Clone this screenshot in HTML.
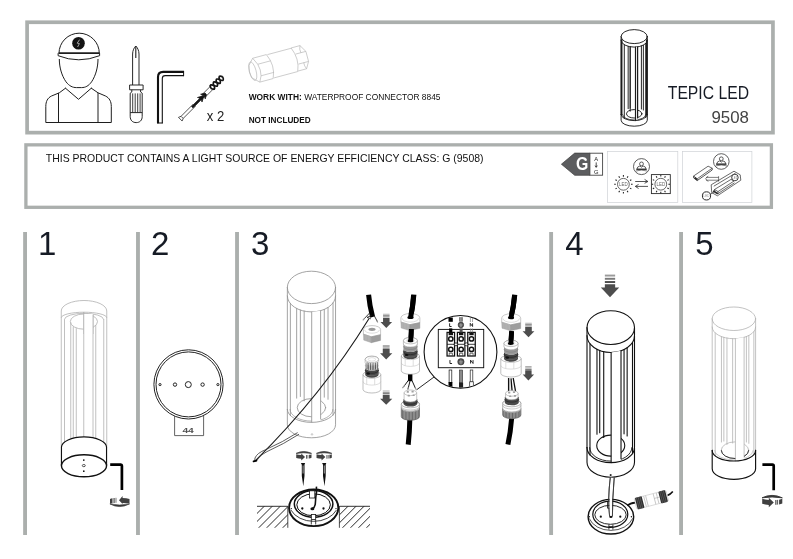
<!DOCTYPE html>
<html><head><meta charset="utf-8"><title>TEPIC LED 9508</title>
<style>
html,body{margin:0;padding:0;background:#fff;}
body{width:793px;height:559px;overflow:hidden;font-family:"Liberation Sans",sans-serif;}
svg{display:block;}
svg text{font-family:"Liberation Sans",sans-serif;}
svg{will-change:transform;}
</style></head><body>
<svg width="793" height="559" viewBox="0 0 793 559">
<rect width="793" height="559" fill="#fff"/>
<rect x="27.1" y="22.25" width="745.85" height="110.4" fill="none" stroke="#abafad" stroke-width="3.7"/>
<rect x="25.9" y="144.85" width="745.5" height="62.45" fill="none" stroke="#abafad" stroke-width="3.3"/>
<rect x="23.15" y="232" width="3.85" height="303" fill="#abafad"/>
<rect x="136.05" y="232" width="3.85" height="303" fill="#abafad"/>
<rect x="235.1" y="232" width="3.85" height="303" fill="#abafad"/>
<rect x="549.2" y="232" width="3.85" height="303" fill="#abafad"/>
<rect x="679.15" y="232" width="3.85" height="303" fill="#abafad"/>
<text id="n1" x="38" y="254.7" font-size="33" fill="#161b25" class="num">1</text>
<text id="n2" x="151" y="254.7" font-size="33" fill="#161b25" class="num">2</text>
<text id="n3" x="251" y="254.7" font-size="33" fill="#161b25" class="num">3</text>
<text id="n4" x="565.2" y="254.7" font-size="33" fill="#161b25" class="num">4</text>
<text id="n5" x="695.2" y="254.7" font-size="33" fill="#161b25" class="num">5</text>
<text id="t1" x="248.7" y="100" font-size="8.2" fill="#111" textLength="191.8" lengthAdjust="spacingAndGlyphs"><tspan font-weight="bold">WORK WITH:</tspan> WATERPROOF CONNECTOR 8845</text>
<text id="t2" x="248.7" y="122.5" font-size="8.2" font-weight="bold" fill="#111" textLength="62" lengthAdjust="spacingAndGlyphs">NOT INCLUDED</text>
<text id="t3" x="206.8" y="121.3" font-size="14" fill="#222" textLength="17.5" lengthAdjust="spacingAndGlyphs">x 2</text>
<text id="t4" x="667.8" y="98.8" font-size="17.5" fill="#161b25" textLength="81.2" lengthAdjust="spacingAndGlyphs">TEPIC LED</text>
<text id="t5" x="711.5" y="122.6" font-size="16.4" fill="#444" textLength="37.5" lengthAdjust="spacingAndGlyphs">9508</text>
<text id="t6" x="45.8" y="162" font-size="11.5" fill="#111" textLength="437.7" lengthAdjust="spacingAndGlyphs">THIS PRODUCT CONTAINS A LIGHT SOURCE OF ENERGY EFFICIENCY CLASS: G (9508)</text>
<g fill="none" stroke="#1e1e1e" stroke-width="1.0" stroke-linecap="round" stroke-linejoin="round">
<path d="M59,53 A20.15,19.8 0 0 1 99.3,53"/>
<path d="M58.1,53.6 V55.7 Q78.7,63.9 99.6,55.7 V53.6"/>
<path d="M59.3,59.4 C59.3,67 61.6,75.5 66,81.8 C69.2,86 72.6,87.6 76.5,87.6 H81.5 C85.4,87.6 88.6,86 91.6,81.8 C95.8,75.5 98,67 98,59.4"/>
<path d="M65.5,88.2 L78.5,99.3 L91.3,88.2"/>
<path d="M65.5,88.2 L59.3,92.8 L51.5,96 C47.5,98 45.8,101.5 45.8,106.5 V122.5 H111.3 V106.5 C111.3,101.5 109.5,98 105.5,96 L98,92.8 L91.3,88.2"/>
<path d="M58.5,93.3 V122.5 M98,93.3 V122.5"/>
</g>
<path d="M58.6,53.2 H99.6" stroke="#1e1e1e" stroke-width="1.7"/>
<circle cx="78.5" cy="43.3" r="6.3" fill="#141414"/>
<path d="M79.6,39.6 L77.2,43.2 L79.4,43.6 L77.6,47" fill="none" stroke="#ddd" stroke-width="0.7"/>
<g fill="none" stroke="#1e1e1e" stroke-width="0.95" stroke-linejoin="round">
<path d="M132.6,85 V54 C132.6,50.5 134.3,47.3 135.8,46 C137.3,47.3 139,50.5 139,54 V85"/>
<path d="M135.8,46.3 V58" stroke-width="1.1"/>
<rect x="129.6" y="85" width="13.5" height="4.8"/>
<path d="M131.8,89.8 V92 L130.2,93.2 V116.5 C130.2,120.3 132.6,122.6 136.2,122.6 C139.8,122.6 142.2,120.3 142.2,116.5 V93.2 L140.6,92 V89.8"/>
<path d="M130.2,112.6 H142.2"/>
<path d="M132.7,93.4 V112.4 M135.2,93.4 V112.4 M137.7,93.4 V112.4 M140.1,93.4 V112.4" stroke-width="0.85"/>
</g>
<path d="M158,123.2 V77 Q158,71.9 163.2,71.9 H184" fill="none" stroke="#111" stroke-width="2.1"/>
<path d="M162.3,123.2 V78.5 Q162.3,75.6 165.2,75.6 H184" fill="none" stroke="#111" stroke-width="1.1"/>
<path d="M157,123 H162.8 M183.6,71 V76.1" fill="none" stroke="#111" stroke-width="1"/>
<g transform="translate(180.3,119.2) rotate(-45)" stroke="#1a1a1a" stroke-width="0.7" fill="none" stroke-linejoin="round">
<path d="M0,-2.6 L2.6,-1.5 V1.5 L0,2.6 Z" fill="#fff"/>
<path d="M2.6,-1.5 H20 M2.6,1.5 H20"/>
<path d="M17,-0.9 H33 V0.9 H17 Z" fill="#111" stroke-width="0.9"/>
<path d="M27.5,-3.2 L32,-0.9 V0.9 L27.5,3.2 L29.3,0 Z" fill="#111"/>
<path d="M32,-3.3 L36,-1 V1 L32,3.3 L33.6,0 Z" fill="#111"/>
<path d="M33,-2 H45 M33,2 H45"/>
<path d="M43.5,0 Q45.5,-5.4 47.6,0 T51.7,0 T55.8,0 T59.9,0 M43.5,0 Q45.5,5.4 47.6,0 T51.7,0 T55.8,0 T59.9,0" stroke="#151515" stroke-width="1.75" fill="none"/>
<path d="M44,-2.4 L46,-2.9 M44,2.4 L46,2.9 M49.2,-2.6 L50.2,-2.6 M49.2,2.6 L50.2,2.6 M53.3,-2.6 L54.3,-2.6 M53.3,2.6 L54.3,2.6" stroke="#151515" stroke-width="1.1" fill="none"/>
</g>
<g transform="translate(277.7,64.5) rotate(-15)" stroke="#b2b2b2" stroke-width="0.6" fill="none" stroke-linejoin="round">
<ellipse cx="-25.8" cy="0" rx="3.3" ry="9.6"/>
<path d="M-22.6,-12.5 H-8.4 M-21.8,12.4 H-8"/>
<path d="M-22.6,-12.5 L-28,-6.6 Q-30.4,0 -28.6,6 L-21.8,12.4"/>
<path d="M-22.6,-12.5 L-19.2,-5.4 H-6 M-19.2,-5.4 Q-17.4,1 -19,6.6 L-21.8,12.4 M-19,6.6 H-5.6"/>
<path d="M-8.4,-12.5 Q-2.4,0 -8,12.4"/>
<path d="M-7.4,-12.2 H17.2 M-7,12 H17.6"/>
<path d="M17.2,-12.5 Q22.6,0 17.6,11.8"/>
<path d="M17.2,-12.5 H26.4 L30.6,-5.4 V5 L26.8,11.6 H17.6"/>
<path d="M20,-5.4 H30.6 M20.2,5 H30.6"/>
<path d="M26.4,-12.5 Q24.6,-9 25.4,-5.4 M26.8,11.6 Q25.2,8.4 25.6,5"/>
</g>
<g fill="none" stroke="#1c1c1c" stroke-width="0.95" stroke-linecap="round">
<ellipse cx="634.2" cy="36.6" rx="13.1" ry="7" fill="#fff"/>
<path d="M621.1,36.6 V40.1 A13.1,7 0 0 0 647.3,40.1 V36.6"/>
<path d="M628.17,46.32 V108.64 M630.19,46.76 V108.16 M641.4,45.95 V109.05 M643.37,45.1 V110.03 M630.19,46.76 V111.21" stroke="#1c1c1c"/>
<ellipse cx="634.2" cy="113.8" rx="7.73" ry="4.2" stroke="#1c1c1c"/>
<path d="M622.54,114.6 A11.66,5.4 0 0 0 645.86,114.6" stroke="#1c1c1c" stroke-width="0.76"/>
<path d="M635.51,47.06 V120.57 L637.61,120.39 V46.86 Z" fill="#fff" stroke="none"/>
<path d="M635.51,47.06 V120.57 M637.61,46.86 V117.89" stroke="#1c1c1c" stroke-width="1.2"/>
<path d="M624.3,44.68 V118.53 M645.73,43.42 V117.45" stroke="#1c1c1c"/>
<path d="M621.6,40.1 V114.6 M646.8,40.1 V114.6" stroke-width="1.71"/>
<path d="M621.1,40.1 V114.6 M647.3,40.1 V114.6"/>
</g>
<g fill="none" stroke="#1c1c1c" stroke-width="0.95" stroke-linecap="round">
<path d="M621.1,114.6 A13.1,6 0 0 0 647.3,114.6"/>
<path d="M621.1,114.6 V120.2 A13.1,6 0 0 0 647.3,120.2 V114.6"/>
</g>
<path d="M561.4,164.2 L574.7,153.1 H589.9 V175.3 H574.7 Z" fill="#5c5d5f" stroke="#3c3c3c" stroke-width="0.7" stroke-linejoin="round"/>
<rect x="589.9" y="153.2" width="12.7" height="22" fill="#fff" stroke="#444" stroke-width="0.9"/>
<text x="576.1" y="170" font-size="18.4" font-weight="bold" fill="#fff" textLength="12.3" lengthAdjust="spacingAndGlyphs">G</text>
<text x="596.2" y="160.6" font-size="5.8" fill="#222" text-anchor="middle">A</text>
<text x="596.2" y="173.6" font-size="5.8" fill="#222" text-anchor="middle">G</text>
<path d="M596.2,162.4 V167 M595.1,165.6 L596.2,167.4 L597.3,165.6" stroke="#222" stroke-width="0.8" fill="none"/>
<rect x="607.6" y="151.4" width="70.2" height="51" fill="none" stroke="#cfd2d6" stroke-width="0.7"/>
<rect x="682.5" y="151.4" width="69.4" height="51" fill="none" stroke="#cfd2d6" stroke-width="0.7"/>
<g fill="none" stroke="#2a2a2a" stroke-width="0.75"><circle cx="641.5" cy="166.6" r="8.0"/><circle cx="641.5" cy="163.9" r="1.9"/><path d="M636.9,169.2 Q637.2,166.29999999999998 639.9,166.0 L641.5,167.2 L643.1,166.0 Q645.8,166.29999999999998 646.1,169.2 Z"/><path d="M636.3,169.29999999999998 H646.7" stroke-width="1.1"/><path d="M635.9,171.0 Q641.5,169.2 647.1,171.0" stroke-width="0.6"/></g>
<g fill="none" stroke="#2a2a2a" stroke-width="0.75"><circle cx="721.3" cy="161.5" r="7.8"/><circle cx="721.3" cy="158.8" r="1.9"/><path d="M716.6999999999999,164.1 Q717.0,161.2 719.6999999999999,160.9 L721.3,162.1 L722.9,160.9 Q725.5999999999999,161.2 725.9,164.1 Z"/><path d="M716.0999999999999,164.2 H726.5" stroke-width="1.1"/><path d="M715.6999999999999,165.9 Q721.3,164.1 726.9,165.9" stroke-width="0.6"/></g>
<g fill="none" stroke="#2a2a2a" stroke-width="0.7"><circle cx="623.4" cy="184.3" r="5.9"/><path d="M631,184.3 L632.6,184.3 M629.98,188.1 L631.37,188.9 M627.2,190.88 L628,192.27 M623.4,191.9 L623.4,193.5 M619.6,190.88 L618.8,192.27 M616.82,188.1 L615.43,188.9 M615.8,184.3 L614.2,184.3 M616.82,180.5 L615.43,179.7 M619.6,177.72 L618.8,176.33 M623.4,176.7 L623.4,175.1 M627.2,177.72 L628,176.33 M629.98,180.5 L631.37,179.7 " stroke-width="1.05" stroke="#222"/></g><text x="623.4" y="186.0" font-size="4.6" fill="#666" text-anchor="middle" textLength="8.6" lengthAdjust="spacingAndGlyphs">LED</text>
<g fill="none" stroke="#2a2a2a" stroke-width="0.7"><circle cx="660.8" cy="184.2" r="5.9"/><path d="M668.4,184.2 L670,184.2 M667.38,188 L668.77,188.8 M664.6,190.78 L665.4,192.17 M660.8,191.8 L660.8,193.4 M657,190.78 L656.2,192.17 M654.22,188 L652.83,188.8 M653.2,184.2 L651.6,184.2 M654.22,180.4 L652.83,179.6 M657,177.62 L656.2,176.23 M660.8,176.6 L660.8,175 M664.6,177.62 L665.4,176.23 M667.38,180.4 L668.77,179.6 " stroke-width="1.05" stroke="#222"/></g><text x="660.8" y="185.89999999999998" font-size="4.6" fill="#666" text-anchor="middle" textLength="8.6" lengthAdjust="spacingAndGlyphs">LED</text>
<rect x="651.4" y="174.6" width="18.9" height="19" fill="none" stroke="#2a2a2a" stroke-width="0.9"/>
<path d="M635.2,181.5 H647.6 M644.6,179.4 L647.9,181.5 L644.6,183.3 M648,186.4 H635.6 M638.6,184.4 L635.3,186.4 L638.6,188.5" fill="none" stroke="#2a2a2a" stroke-width="0.8"/>
<g fill="none" stroke="#2a2a2a" stroke-width="0.7" stroke-linejoin="round">
<path d="M693.6,176 L708.1,166.2 L712.2,168.2 L697.2,178.8 Z"/>
<path d="M693.6,176 V177.9 L697.2,180.6 V178.8 M697.2,180.6 L712.2,170 V168.2" stroke-width="0.8"/>
<path d="M694.6,177.6 L697,179.6" stroke-width="1.4"/>
<path d="M706,177.4 H718.6 M706,180.2 H718.6 M718.6,176.2 V181.6 M708.2,175.9 L705.6,178.8 L708.2,181.7" stroke-width="0.6"/>
<path d="M711.2,184.8 L734,171.2 L740.2,174.8 L740.8,180.2 L717.4,195.8 L711.7,192.6 Z"/>
<path d="M713.8,186.2 L735.5,173.2 M714.5,189.5 L731,179.4 L734,181 L718,191.6 Z M714.5,189.5 V191.2 L718,193.6 V191.6 M718,193.6 L734.5,182.8" stroke-width="0.7"/>
<path d="M713,190.8 L717.8,193.8" stroke-width="1.5"/>
<circle cx="734.9" cy="177.5" r="3.3" fill="#fff" stroke-width="0.9"/>
<circle cx="706.5" cy="195.9" r="4.1" fill="#fff" stroke-width="1"/>
<path d="M710.3,194.3 L714.6,191.6"/>
</g>
<text x="734.9" y="178.6" font-size="3" fill="#888" text-anchor="middle">LED</text>
<text x="706.5" y="197" font-size="3" fill="#888" text-anchor="middle">LED</text>
<g fill="none" stroke="#b0b0b0" stroke-width="0.8">
<path d="M61.25,317.5 V311 A22.75,10.5 0 0 1 106.75,311 V317.5"/>
<path d="M61.25,317.8 A22.75,5.6 0 0 1 106.75,317.8"/>
<path d="M64.45,319.5 A19.55,6.2 0 0 1 103.55,319.5"/>
<ellipse cx="83.9" cy="321.6" rx="13.6" ry="7.6"/>
<path d="M61.25,317.5 V447.3 M64.5,319.3 V441.94 M70.75,322.5 V438.85 M73.25,326.5 V438.13 M76.25,328.2 V437.52 M83.75,312.3 V436.9 M93,314.5 V437.75 M95.75,325 V438.39 M103.75,319 V442.14 M106.75,317.5 V447.3 "/>
<rect x="83.75" y="314" width="9.25" height="20" fill="#fff" stroke="none"/>
<path d="M83.75,312.3 V334 M93,314.5 V334"/>
</g>
<g fill="none" stroke="#111" stroke-width="1.15">
<path d="M61.45,465.6 V447.3 A22.55,10.4 0 0 1 106.55,447.3 V465.6"/>
<ellipse cx="84.0" cy="465.8" rx="22.55" ry="11" stroke-width="1.4"/>
</g>
<circle cx="83.8" cy="460.1" r="0.85" fill="#111"/><circle cx="83.8" cy="471.2" r="0.85" fill="#111"/>
<ellipse cx="83.8" cy="465.6" rx="1.5" ry="1.1" fill="#fff" stroke="#111" stroke-width="0.7"/>
<path d="M110.2,464.6 H120.9 Q121.9,464.6 121.9,465.8 V490" fill="none" stroke="#000" stroke-width="2.7"/>
<g transform="translate(109.5,496) scale(1.0)"><path d="M0.4,7.9 Q10,13.2 20,7.9 Q10,10.2 0.4,7.9 Z" fill="#3a3a3a" stroke="#3a3a3a" stroke-width="0.7" stroke-linejoin="round"/><path d="M9.5,4.2 L13.1,0 V1.9 Q17,1.9 20,3 V7.6 Q17,6.9 13.1,6.9 V8 Z" fill="#404040"/><path d="M0.5,3.1 Q1.6,2.5 3,2.3 V7.3 Q1.6,7.5 0.5,7.8 Z" fill="#404040"/><rect x="4" y="2" width="1.15" height="5" fill="#4a4a4a"/><rect x="5.9" y="1.8" width="1.15" height="5" fill="#8a8a8a"/></g>
<g fill="none" stroke="#242424" stroke-width="1.0">
<circle cx="188.5" cy="384.4" r="34.6"/>
<circle cx="188.5" cy="384.4" r="32.5"/>
<circle cx="160" cy="384.6" r="1.1"/><circle cx="217.9" cy="384.6" r="1.1"/>
<circle cx="175" cy="384.6" r="1.7"/><circle cx="202.6" cy="384.6" r="1.7"/>
<circle cx="188.3" cy="384.6" r="3"/>
</g>
<path d="M174.6,415.9 V435.6 H203.6 V415.9" fill="none" stroke="#484848" stroke-width="0.85"/>
<text x="182.4" y="433.1" font-size="8" font-weight="bold" fill="#505050" textLength="11.4" lengthAdjust="spacingAndGlyphs">44</text>
<g fill="none" stroke="#929292" stroke-width="0.85" stroke-linecap="round">
<ellipse cx="311.45" cy="287.4" rx="24.1" ry="16.2" fill="#fff"/>
<path d="M287.35,287.4 V295.7 A24.1,16.2 0 0 0 335.55,295.7 V287.4"/>
<path d="M296.65,308.49 V398.16 M300.36,310.08 V396.49 M324.27,309.42 V397.18 M328.03,307.46 V399.29 M304.17,311.14 V400.85" stroke="#929292"/>
<ellipse cx="311.45" cy="407.67" rx="14.22" ry="9.1" stroke="#929292"/>
<path d="M290,409.4 A21.45,11.7 0 0 0 332.9,409.4" stroke="#929292" stroke-width="0.68"/>
<path d="M311.69,311.9 V422.4 L320.61,421.42 V310.68 Z" fill="#fff" stroke="none"/>
<path d="M311.69,311.9 V422.4 M320.61,310.68 V418.92" stroke="#929292" stroke-width="0.85"/>
<path d="M290.36,303.54 V415.69 M333.04,302.89 V415.17" stroke="#929292"/>
<path d="M287.35,295.7 V409.4 M335.55,295.7 V409.4"/>
</g>
<g fill="none" stroke="#929292" stroke-width="0.85" stroke-linecap="round">
<path d="M287.35,409.4 A24.1,13 0 0 0 335.55,409.4"/>
<path d="M287.35,409.4 V424.8 A24.1,13 0 0 0 335.55,424.8 V409.4"/>
</g>
<circle cx="312" cy="434.4" r="0.8" fill="none" stroke="#9b9b9b" stroke-width="0.5"/>
<path d="M368.6,294.8 Q369.6,306 372.6,317" fill="none" stroke="#000" stroke-width="5"/>
<path d="M369.6,313 L363.2,319.8 M371.4,315.6 L367,317.4 L370.8,318.8 M374.2,315.6 L377.6,322" fill="none" stroke="#222" stroke-width="0.9"/>
<path d="M364.6,318.4 L362.8,320.4 M376.8,320.6 L377.8,322.4" fill="none" stroke="#999" stroke-width="1.1"/>
<path d="M368.9,318.8 Q322,395 255.7,460.4" fill="none" stroke="#1a1a1a" stroke-width="1.1"/>
<path d="M297.6,432.6 Q283,442 265.8,449.6 Q257,453 255,458 Q254.2,460.4 255.6,461.2 M299,434.2 Q284,444 267,451.6 Q261,454.6 258.6,458 Q257.4,460.4 255.6,461.4" fill="none" stroke="#333" stroke-width="0.8"/>
<path d="M253.6,461.4 L256.4,460.6" fill="none" stroke="#000" stroke-width="1.8" stroke-linecap="round"/>
<rect x="383.05" y="313.8" width="6.5" height="0.79" fill="#9a9a9a"/><rect x="383.05" y="315.16" width="6.5" height="0.79" fill="#7a7a7a"/><rect x="383.05" y="316.52" width="6.5" height="0.79" fill="#4d4d4d"/><path d="M383.05,317.88 H389.55 V322.02 H392.1 L386.3,328.1 L380.5,322.02 H383.05 Z" fill="#4d4d4d"/>
<rect x="382.78" y="345" width="6.83" height="0.79" fill="#9a9a9a"/><rect x="382.78" y="346.37" width="6.83" height="0.79" fill="#7a7a7a"/><rect x="382.78" y="347.74" width="6.83" height="0.79" fill="#4d4d4d"/><path d="M382.78,349.1 H389.62 V353.28 H392.3 L386.2,359.4 L380.1,353.28 H382.78 Z" fill="#4d4d4d"/>
<rect x="382.78" y="390.6" width="6.83" height="0.78" fill="#9a9a9a"/><rect x="382.78" y="391.95" width="6.83" height="0.78" fill="#7a7a7a"/><rect x="382.78" y="393.3" width="6.83" height="0.78" fill="#4d4d4d"/><path d="M382.78,394.65 H389.62 V398.77 H392.3 L386.2,404.8 L380.1,398.77 H382.78 Z" fill="#4d4d4d"/>
<rect x="525.2" y="322.8" width="6.61" height="0.8" fill="#9a9a9a"/><rect x="525.2" y="324.18" width="6.61" height="0.8" fill="#7a7a7a"/><rect x="525.2" y="325.56" width="6.61" height="0.8" fill="#4d4d4d"/><path d="M525.2,326.93 H531.8 V331.14 H534.4 L528.5,337.3 L522.6,331.14 H525.2 Z" fill="#4d4d4d"/>
<rect x="525.21" y="366.2" width="6.38" height="0.79" fill="#9a9a9a"/><rect x="525.21" y="367.56" width="6.38" height="0.79" fill="#7a7a7a"/><rect x="525.21" y="368.92" width="6.38" height="0.79" fill="#4d4d4d"/><path d="M525.21,370.28 H531.59 V374.42 H534.1 L528.4,380.5 L522.7,374.42 H525.21 Z" fill="#4d4d4d"/>
<g stroke-linejoin="round"><path d="M363.4,329.5 A8.6,3.9 0 0 1 380.6,329.5 V334.7 L371.4,336.8 L363.4,334.1 Z" fill="#fff" stroke="#a5a5a5" stroke-width="0.6"/><path d="M364.6,329.8 A7.4,3.4 0 0 0 379.4,329.8" fill="none" stroke="#bdbdbd" stroke-width="0.5"/><path d="M363.4,334.1 L371.4,336.8 V342.7 L363.7,340.1 Z" fill="#b6b6b6" stroke="#9a9a9a" stroke-width="0.4"/><path d="M371.4,336.8 L380.6,334.7 V340.4 L371.4,342.7 Z" fill="#9d9d9d" stroke="#8a8a8a" stroke-width="0.4"/><path d="M364.6,335 V340.19 M366.1,335.51 V340.68 M367.6,336.02 V341.17 M369.1,336.52 V341.65 M370.6,337.03 V342.14 " stroke="#a2a2a2" stroke-width="0.45" fill="none"/><ellipse cx="372" cy="329.3" rx="3.61" ry="1.64" fill="#9a9a9a"/></g>
<g stroke-linejoin="round"><path d="M363,374.7 A8.9,3.6 0 0 1 380.8,374.7 V389.4 A8.9,3.6 0 0 1 363,389.4 Z" fill="#fff" stroke="#939393" stroke-width="0.6"/><path d="M363,374.7 A8.9,3.6 0 0 0 380.8,374.7" fill="none" stroke="#939393" stroke-width="0.55"/><path d="M363,381.5 A8.9,3.6 0 0 0 380.8,381.5" fill="none" stroke="#bcbcbc" stroke-width="0.5"/><path d="M366.7,378.1 V384.3 M374.7,378.3 V384.7" fill="none" stroke="#bcbcbc" stroke-width="0.5"/><path d="M365.2,367.5 V374.6 A6.7,3.2 0 0 0 378.6,374.6 V367.5 A6.7,3.2 0 0 1 365.2,367.5 Z" fill="#474747"/><path d="M365.2,370.1 A6.7,3.2 0 0 0 378.6,370.1" fill="none" stroke="#2a2a2a" stroke-width="0.9"/><path d="M365.2,372.5 A6.7,3.2 0 0 0 378.6,372.5" fill="none" stroke="#6a6a6a" stroke-width="0.7"/><ellipse cx="368.1" cy="373.7" rx="1.9" ry="1.1" fill="#111"/><path d="M365.2,362.6 V367.5 A6.7,3.2 0 0 0 378.6,367.5 V362.6 A6.7,3.2 0 0 1 365.2,362.6 Z" fill="#9a9a9a"/><path d="M365.2,365 A6.7,3.2 0 0 0 378.6,365" fill="none" stroke="#7d7d7d" stroke-width="0.6"/><path d="M365.2,359.4 V362.6 A6.7,3.2 0 0 0 378.6,362.6 V359.4 A6.7,3.2 0 0 0 365.2,359.4 Z" fill="#fff" stroke="#939393" stroke-width="0.6"/><ellipse cx="371.9" cy="359.4" rx="6.7" ry="3.2" fill="#fff" stroke="#939393" stroke-width="0.6"/><ellipse cx="371.9" cy="359.4" rx="3.69" ry="1.76" fill="#fff" stroke="#c0c0c0" stroke-width="0.5"/><path d="M366.2,361.68 V368.48 M367.9,362.57 V369.37 M369.6,363.01 V369.81 M371.3,363.19 V369.99 M373,363.16 V369.96 M374.7,362.91 V369.71 M376.4,362.37 V369.17 M378.1,361.21 V368.01 " stroke="#fff" stroke-width="0.9" fill="none"/><path d="M367.05,362.21 V369.01 M368.75,362.82 V369.62 M370.45,363.12 V369.92 M372.15,363.2 V370 M373.85,363.06 V369.86 M375.55,362.68 V369.48 M377.25,361.93 V368.73 " stroke="#333" stroke-width="0.7" fill="none"/></g>
<path d="M413.9,294.6 Q413,306 410.4,318.6" fill="none" stroke="#000" stroke-width="5"/>
<g stroke-linejoin="round"><path d="M400.9,317.9 A9.5,4.4 0 0 1 419.9,317.9 V322.6 L409.8,324.7 L400.9,322 Z" fill="#fff" stroke="#a5a5a5" stroke-width="0.6"/><path d="M402.1,318.2 A8.3,3.9 0 0 0 418.7,318.2" fill="none" stroke="#bdbdbd" stroke-width="0.5"/><path d="M400.9,322 L409.8,324.7 V330.6 L401.2,328 Z" fill="#b6b6b6" stroke="#9a9a9a" stroke-width="0.4"/><path d="M409.8,324.7 L419.9,322.6 V328.3 L409.8,330.6 Z" fill="#9d9d9d" stroke="#8a8a8a" stroke-width="0.4"/><path d="M402.1,322.86 V328.05 M403.6,323.32 V328.49 M405.1,323.77 V328.93 M406.6,324.23 V329.37 M408.1,324.68 V329.8 " stroke="#a2a2a2" stroke-width="0.45" fill="none"/></g>
<ellipse cx="410.5" cy="317.6" rx="3.1" ry="1.5" fill="#000"/>
<path d="M413.6,295 Q412.9,306 410.6,317.6" fill="none" stroke="#000" stroke-width="5"/>
<path d="M411.4,329 Q411.2,335 410.6,342" fill="none" stroke="#000" stroke-width="4.8"/>
<g stroke-linejoin="round"><path d="M401.3,356 A9.1,3.6 0 0 1 419.5,356 V370.7 A9.1,3.6 0 0 1 401.3,370.7 Z" fill="#fff" stroke="#939393" stroke-width="0.6"/><path d="M401.3,356 A9.1,3.6 0 0 0 419.5,356" fill="none" stroke="#939393" stroke-width="0.55"/><path d="M401.3,362.8 A9.1,3.6 0 0 0 419.5,362.8" fill="none" stroke="#bcbcbc" stroke-width="0.5"/><path d="M405.2,359.4 V365.6 M413.2,359.6 V366" fill="none" stroke="#bcbcbc" stroke-width="0.5"/><path d="M403.4,348.8 V355.9 A7,3.2 0 0 0 417.4,355.9 V348.8 A7,3.2 0 0 1 403.4,348.8 Z" fill="#474747"/><path d="M403.4,351.4 A7,3.2 0 0 0 417.4,351.4" fill="none" stroke="#2a2a2a" stroke-width="0.9"/><path d="M403.4,353.8 A7,3.2 0 0 0 417.4,353.8" fill="none" stroke="#6a6a6a" stroke-width="0.7"/><ellipse cx="406.6" cy="355" rx="1.9" ry="1.1" fill="#111"/><path d="M403.4,343.9 V348.8 A7,3.2 0 0 0 417.4,348.8 V343.9 A7,3.2 0 0 1 403.4,343.9 Z" fill="#9a9a9a"/><path d="M403.4,346.3 A7,3.2 0 0 0 417.4,346.3" fill="none" stroke="#7d7d7d" stroke-width="0.6"/><path d="M403.4,340.7 V343.9 A7,3.2 0 0 0 417.4,343.9 V340.7 A7,3.2 0 0 0 403.4,340.7 Z" fill="#fff" stroke="#939393" stroke-width="0.6"/><ellipse cx="410.4" cy="340.7" rx="7" ry="3.2" fill="#fff" stroke="#939393" stroke-width="0.6"/><ellipse cx="410.4" cy="340.7" rx="3.85" ry="1.76" fill="#fff" stroke="#c0c0c0" stroke-width="0.5"/></g>
<ellipse cx="410.5" cy="340.9" rx="3" ry="1.4" fill="#000"/>
<path d="M411.3,329.5 Q411.2,335 410.7,340.8" fill="none" stroke="#000" stroke-width="4.8"/>
<path d="M410.2,374.4 V381.2" fill="none" stroke="#000" stroke-width="4.4"/>
<path d="M408.6,380 L403.6,386.8 M410,381 L408,389 M412,380.6 L415.6,388.6" fill="none" stroke="#1a1a1a" stroke-width="1"/>
<path d="M404.6,385.4 L402.4,388.2 M408.4,387.4 L407.8,390 M415,387.2 L416.2,389.8" fill="none" stroke="#9a9a9a" stroke-width="1.2"/>
<path d="M409.8,420 Q409.6,432 408.2,444.6" fill="none" stroke="#000" stroke-width="5"/>
<g stroke-linejoin="round"><path d="M401.3,407.6 V416.6 A9.1,3.6 0 0 0 419.5,416.6 V407.6 Z" fill="#b4b4b4" stroke="#555" stroke-width="0.7"/><path d="M402.4,410.12 V418.02 M403.85,410.9 V418.8 M405.3,411.38 V419.28 M406.75,411.7 V419.6 M408.2,411.89 V419.79 M409.65,411.99 V419.89 M411.1,411.99 V419.89 M412.55,411.9 V419.8 M414,411.71 V419.61 M415.45,411.39 V419.29 M416.9,410.92 V418.82 M418.35,410.15 V418.05 " stroke="#4a4a4a" stroke-width="0.7" fill="none"/><path d="M401.3,404.2 V407.6 A9.1,3.6 0 0 0 419.5,407.6 V404.2 A9.1,3.6 0 0 0 401.3,404.2 Z" fill="#fff" stroke="#888" stroke-width="0.6"/><ellipse cx="410.4" cy="404.2" rx="9.1" ry="3.6" fill="#fff" stroke="#888" stroke-width="0.6"/><path d="M401.3,406.4 A9.1,3.6 0 0 0 419.5,406.4" fill="none" stroke="#999" stroke-width="0.5"/><path d="M403.4,399.2 V403.6 A7,2.9 0 0 0 417.4,403.6 V399.2 Z" fill="#4a4a4a"/><path d="M403.4,401.4 A7,2.9 0 0 0 417.4,401.4" fill="none" stroke="#2b2b2b" stroke-width="0.9"/><path d="M404.1,392.8 V399.2 A6.3,2.8 0 0 0 416.7,399.2 V392.8 Z" fill="#fff" stroke="#a0a0a0" stroke-width="0.6"/><ellipse cx="410.4" cy="392.8" rx="6.3" ry="2.8" fill="#fff" stroke="#a0a0a0" stroke-width="0.6"/><rect x="406.7" y="391.1" width="2.2" height="1.7" rx="0.5" fill="#a0a0a0"/><rect x="411.5" y="390.7" width="2.2" height="1.7" rx="0.5" fill="#a0a0a0"/><rect x="407.7" y="394.8" width="2.2" height="1.7" rx="0.5" fill="#a0a0a0"/><rect x="412.5" y="394.4" width="2.2" height="1.7" rx="0.5" fill="#a0a0a0"/></g>
<path d="M434.6,376.6 L416.6,389.8" fill="none" stroke="#111" stroke-width="0.9"/>
<path d="M514.8,294.8 Q513.8,306 510.8,318.4" fill="none" stroke="#000" stroke-width="5"/>
<g stroke-linejoin="round"><path d="M501.7,318.1 A9.5,4.4 0 0 1 520.7,318.1 V322.8 L510.6,324.9 L501.7,322.2 Z" fill="#fff" stroke="#a5a5a5" stroke-width="0.6"/><path d="M502.9,318.4 A8.3,3.9 0 0 0 519.5,318.4" fill="none" stroke="#bdbdbd" stroke-width="0.5"/><path d="M501.7,322.2 L510.6,324.9 V330.8 L502,328.2 Z" fill="#b6b6b6" stroke="#9a9a9a" stroke-width="0.4"/><path d="M510.6,324.9 L520.7,322.8 V328.5 L510.6,330.8 Z" fill="#9d9d9d" stroke="#8a8a8a" stroke-width="0.4"/><path d="M502.9,323.06 V328.25 M504.4,323.52 V328.69 M505.9,323.97 V329.13 M507.4,324.43 V329.57 M508.9,324.88 V330 " stroke="#a2a2a2" stroke-width="0.45" fill="none"/></g>
<ellipse cx="511" cy="317.8" rx="3.1" ry="1.5" fill="#000"/>
<path d="M514.6,295 Q513.7,306 511,317.8" fill="none" stroke="#000" stroke-width="5"/>
<path d="M511.6,331 Q511.2,337 510.6,344" fill="none" stroke="#000" stroke-width="4.8"/>
<g stroke-linejoin="round"><path d="M500.8,358.7 A10.2,3.6 0 0 1 521.2,358.7 V373.4 A10.2,3.6 0 0 1 500.8,373.4 Z" fill="#fff" stroke="#939393" stroke-width="0.6"/><path d="M500.8,358.7 A10.2,3.6 0 0 0 521.2,358.7" fill="none" stroke="#939393" stroke-width="0.55"/><path d="M500.8,365.5 A10.2,3.6 0 0 0 521.2,365.5" fill="none" stroke="#bcbcbc" stroke-width="0.5"/><path d="M505.8,362.1 V368.3 M513.8,362.3 V368.7" fill="none" stroke="#bcbcbc" stroke-width="0.5"/><path d="M504,351.5 V358.6 A7,3.2 0 0 0 518,358.6 V351.5 A7,3.2 0 0 1 504,351.5 Z" fill="#474747"/><path d="M504,354.1 A7,3.2 0 0 0 518,354.1" fill="none" stroke="#2a2a2a" stroke-width="0.9"/><path d="M504,356.5 A7,3.2 0 0 0 518,356.5" fill="none" stroke="#6a6a6a" stroke-width="0.7"/><ellipse cx="507.2" cy="357.7" rx="1.9" ry="1.1" fill="#111"/><path d="M504,346.6 V351.5 A7,3.2 0 0 0 518,351.5 V346.6 A7,3.2 0 0 1 504,346.6 Z" fill="#9a9a9a"/><path d="M504,349 A7,3.2 0 0 0 518,349" fill="none" stroke="#7d7d7d" stroke-width="0.6"/><path d="M504,343.4 V346.6 A7,3.2 0 0 0 518,346.6 V343.4 A7,3.2 0 0 0 504,343.4 Z" fill="#fff" stroke="#939393" stroke-width="0.6"/><ellipse cx="511" cy="343.4" rx="7" ry="3.2" fill="#fff" stroke="#939393" stroke-width="0.6"/><ellipse cx="511" cy="343.4" rx="3.85" ry="1.76" fill="#fff" stroke="#c0c0c0" stroke-width="0.5"/></g>
<ellipse cx="510.8" cy="343.6" rx="3" ry="1.4" fill="#000"/>
<path d="M511.6,331.5 Q511.4,337 510.9,343.4" fill="none" stroke="#000" stroke-width="4.8"/>
<path d="M508.6,378 V392.4 M511,378.4 L512.2,392.4 M513.2,378 L515.6,391.6" fill="none" stroke="#111" stroke-width="1.3"/>
<path d="M509.8,378.4 V392.4" fill="none" stroke="#aaa" stroke-width="0.9"/>
<path d="M511.6,418.6 Q510.6,432 507.9,444.6" fill="none" stroke="#000" stroke-width="5"/>
<g stroke-linejoin="round"><path d="M502.7,408.4 V415 A9.1,3.6 0 0 0 520.9,415 V408.4 Z" fill="#b4b4b4" stroke="#555" stroke-width="0.7"/><path d="M503.8,410.92 V416.42 M505.25,411.7 V417.2 M506.7,412.18 V417.68 M508.15,412.5 V418 M509.6,412.69 V418.19 M511.05,412.79 V418.29 M512.5,412.79 V418.29 M513.95,412.7 V418.2 M515.4,412.51 V418.01 M516.85,412.19 V417.69 M518.3,411.72 V417.22 M519.75,410.95 V416.45 " stroke="#4a4a4a" stroke-width="0.7" fill="none"/><path d="M502.7,403.2 V408.4 A9.1,3.6 0 0 0 520.9,408.4 V403.2 A9.1,3.6 0 0 0 502.7,403.2 Z" fill="#fff" stroke="#888" stroke-width="0.6"/><ellipse cx="511.8" cy="403.2" rx="9.1" ry="3.6" fill="#fff" stroke="#888" stroke-width="0.6"/><path d="M502.7,405.4 A9.1,3.6 0 0 0 520.9,405.4" fill="none" stroke="#999" stroke-width="0.5"/><path d="M504.8,397 V402.4 A7,2.9 0 0 0 518.8,402.4 V397 Z" fill="#4a4a4a"/><path d="M504.8,399.2 A7,2.9 0 0 0 518.8,399.2" fill="none" stroke="#2b2b2b" stroke-width="0.9"/><path d="M505.5,393.4 V397 A6.3,2.8 0 0 0 518.1,397 V393.4 Z" fill="#fff" stroke="#a0a0a0" stroke-width="0.6"/><ellipse cx="511.8" cy="393.4" rx="6.3" ry="2.8" fill="#fff" stroke="#a0a0a0" stroke-width="0.6"/><rect x="508.1" y="391.7" width="2.2" height="1.7" rx="0.5" fill="#a0a0a0"/><rect x="512.9" y="391.3" width="2.2" height="1.7" rx="0.5" fill="#a0a0a0"/><rect x="509.1" y="395.4" width="2.2" height="1.7" rx="0.5" fill="#a0a0a0"/><rect x="513.9" y="395" width="2.2" height="1.7" rx="0.5" fill="#a0a0a0"/></g>
<circle cx="460.5" cy="351.9" r="36.4" fill="#fff" stroke="#111" stroke-width="1.1"/>
<rect x="438.3" y="329.4" width="45.4" height="38.3" fill="#fff" stroke="#111" stroke-width="0.95"/>
<rect x="447.05" y="332.4" width="7.5" height="23.6" fill="#fff" stroke="#111" stroke-width="1.25"/>
<path d="M447.05,344.3 H454.55" stroke="#111" stroke-width="0.8"/>
<circle cx="450.8" cy="338.9" r="2.15" fill="#fff" stroke="#111" stroke-width="1.45"/>
<circle cx="450.8" cy="349.4" r="2.15" fill="#fff" stroke="#111" stroke-width="1.45"/>
<path d="M448.6,333 H453 V335.2 H448.6 Z" fill="#111"/>
<path d="M449.2,353.2 H452.4 V355.6 H449.2 Z" fill="#fff" stroke="#111" stroke-width="0.6"/>
<rect x="457.4" y="332.4" width="7.5" height="23.6" fill="#fff" stroke="#111" stroke-width="1.25"/>
<path d="M457.4,344.3 H464.9" stroke="#111" stroke-width="0.8"/>
<circle cx="461.15" cy="338.9" r="2.15" fill="#fff" stroke="#111" stroke-width="1.45"/>
<circle cx="461.15" cy="349.4" r="2.15" fill="#fff" stroke="#111" stroke-width="1.45"/>
<path d="M458.95,333 H463.35 V335.2 H458.95 Z" fill="#111"/>
<path d="M459.55,353.2 H462.75 V355.6 H459.55 Z" fill="#fff" stroke="#111" stroke-width="0.6"/>
<rect x="467.75" y="332.4" width="7.5" height="23.6" fill="#fff" stroke="#111" stroke-width="1.25"/>
<path d="M467.75,344.3 H475.25" stroke="#111" stroke-width="0.8"/>
<circle cx="471.5" cy="338.9" r="2.15" fill="#fff" stroke="#111" stroke-width="1.45"/>
<circle cx="471.5" cy="349.4" r="2.15" fill="#fff" stroke="#111" stroke-width="1.45"/>
<path d="M469.3,333 H473.7 V335.2 H469.3 Z" fill="#111"/>
<path d="M469.9,353.2 H473.1 V355.6 H469.9 Z" fill="#fff" stroke="#111" stroke-width="0.6"/>
<path d="M453.55,344.3 H458.35" stroke="#111" stroke-width="0.8"/>
<circle cx="455.95" cy="344.3" r="1.5" fill="#fff" stroke="#111" stroke-width="0.8"/>
<path d="M463.9,344.3 H468.7" stroke="#111" stroke-width="0.8"/>
<circle cx="466.3" cy="344.3" r="1.5" fill="#fff" stroke="#111" stroke-width="0.8"/>
<rect x="448.5" y="317.6" width="4.3" height="4.2" fill="#000"/>
<rect x="449.1" y="328.4" width="3.2" height="4" fill="#000"/>
<rect x="459.2" y="317.2" width="3.6" height="4.4" fill="#555"/>
<path d="M460.4,317.2 V321.6 M461.8,317.2 V321.6" stroke="#ddd" stroke-width="0.5"/>
<rect x="459.6" y="328.4" width="3" height="4" fill="#555"/>
<path d="M470.4,317.8 V322 M472.5,317.8 V322 M470.6,328.4 V332.4 M472.4,328.4 V332.4" stroke="#888" stroke-width="0.7" fill="none"/>
<path d="M449.61,323.3 V326.5 H451.59" fill="none" stroke="#1a1a1a" stroke-width="0.95"/>
<path d="M470.22,326.5 V323.3 L472.58,326.5 V323.3" fill="none" stroke="#1a1a1a" stroke-width="0.9" stroke-linejoin="bevel"/>
<path d="M449.95,360.1 V363.5 H452.05" fill="none" stroke="#1a1a1a" stroke-width="0.95"/>
<path d="M470.54,363.5 V360.1 L473.06,363.5 V360.1" fill="none" stroke="#1a1a1a" stroke-width="0.9" stroke-linejoin="bevel"/>
<circle cx="460.9" cy="324.9" r="2.8" fill="#555" stroke="#222" stroke-width="0.5"/><path d="M460.9,323.08 V324.9 M459.164,324.9 H462.63599999999997 M459.724,325.82399999999996 H462.07599999999996 M460.34,326.69199999999995 H461.46" stroke="#ddd" stroke-width="0.45" fill="none"/>
<circle cx="460.9" cy="361.8" r="3.2" fill="#555" stroke="#222" stroke-width="0.5"/><path d="M460.9,359.72 V361.8 M458.916,361.8 H462.88399999999996 M459.556,362.856 H462.24399999999997 M460.26,363.848 H461.53999999999996" stroke="#ddd" stroke-width="0.45" fill="none"/>
<clipPath id="cc"><circle cx="460.5" cy="351.9" r="35.9"/></clipPath>
<g clip-path="url(#cc)">
<rect x="449.1" y="370" width="2.7" height="12.4" fill="#fff" stroke="#111" stroke-width="0.7"/>
<rect x="448.5" y="382" width="3.9" height="8" fill="#000"/>
<rect x="459.4" y="370" width="3.3" height="12.8" fill="#8a8a8a" stroke="#333" stroke-width="0.6"/>
<rect x="459" y="382.6" width="4.1" height="8" fill="#222"/>
<rect x="470.2" y="370" width="2.6" height="12" fill="#fff" stroke="#222" stroke-width="0.7"/>
<rect x="469.7" y="381.8" width="3.6" height="8" fill="#fff" stroke="#222" stroke-width="0.7"/>
</g>
<g transform="translate(296,451.4) scale(0.76)"><path d="M0.2,2.6 Q10,-2.2 20.4,2.6 Q10,0.9 0.2,2.6 Z" fill="#3a3a3a" stroke="#3a3a3a" stroke-width="1" stroke-linejoin="round"/><path d="M11.9,7.3 L6.9,12 V9.8 Q3.2,9.6 0.3,8.6 V3.6 Q3.2,4.6 6.9,4.8 V2.6 Z" fill="#404040"/><rect x="13.4" y="4.8" width="1.15" height="4.8" fill="#404040"/><rect x="15.2" y="4.7" width="1" height="4.7" fill="#555"/><path d="M17.2,4.5 Q19,4.2 20.4,3.6 V8.4 Q19,9 17.2,9.3 Z" fill="#404040"/></g>
<g transform="translate(316.3,451.4) scale(0.76)"><path d="M0.2,2.6 Q10,-2.2 20.4,2.6 Q10,0.9 0.2,2.6 Z" fill="#3a3a3a" stroke="#3a3a3a" stroke-width="1" stroke-linejoin="round"/><path d="M11.9,7.3 L6.9,12 V9.8 Q3.2,9.6 0.3,8.6 V3.6 Q3.2,4.6 6.9,4.8 V2.6 Z" fill="#404040"/><rect x="13.4" y="4.8" width="1.15" height="4.8" fill="#404040"/><rect x="15.2" y="4.7" width="1" height="4.7" fill="#555"/><path d="M17.2,4.5 Q19,4.2 20.4,3.6 V8.4 Q19,9 17.2,9.3 Z" fill="#404040"/></g>
<path d="M300.9,463.1 H305.1 L304.5,464.8 V476 L303.3,486.2 L301.8,476 V464.8 Z" fill="#111"/>
<path d="M303.1,465.4 V473.4" stroke="#999" stroke-width="1.1"/>
<path d="M322.09999999999997,463.1 H326.3 L325.7,464.8 V476 L324.5,486.2 L323.0,476 V464.8 Z" fill="#111"/>
<path d="M324.3,465.4 V473.4" stroke="#999" stroke-width="1.1"/>
<clipPath id="h257"><rect x="257.0" y="506.3" width="30.8" height="21.5"/></clipPath>
<g clip-path="url(#h257)"><path d="M233.7,528.8 L257.2,505.3 M241.7,528.8 L265.2,505.3 M249.7,528.8 L273.2,505.3 M257.7,528.8 L281.2,505.3 M265.7,528.8 L289.2,505.3 M273.7,528.8 L297.2,505.3 M281.7,528.8 L305.2,505.3 " stroke="#1c1c1c" stroke-width="0.95" fill="none"/></g>
<path d="M257.0,506.3 H287.8" stroke="#1c1c1c" stroke-width="0.9"/>
<clipPath id="h339"><rect x="339.4" y="506.3" width="30.6" height="21.5"/></clipPath>
<g clip-path="url(#h339)"><path d="M325.5,528.8 L349,505.3 M333.5,528.8 L357,505.3 M341.5,528.8 L365,505.3 M349.5,528.8 L373,505.3 M357.5,528.8 L381,505.3 M365.5,528.8 L389,505.3 " stroke="#1c1c1c" stroke-width="0.95" fill="none"/></g>
<path d="M339.4,506.3 H370.0" stroke="#1c1c1c" stroke-width="0.9"/>
<path d="M287.8,506 V527.8 M339.4,506 V527.8" stroke="#222" stroke-width="0.8"/>
<ellipse cx="313.7" cy="507.8" rx="24.6" ry="18.3" fill="#fff" stroke="#111" stroke-width="1.9"/>
<path d="M291,512.5 A24.6,18.3 0 0 0 336.4,512.5" fill="none" stroke="#111" stroke-width="0.8" transform="translate(0,-2.4)"/>
<ellipse cx="313.6" cy="504" rx="19.3" ry="13.4" fill="#fff" stroke="#111" stroke-width="1.5"/>
<ellipse cx="313.6" cy="504.8" rx="16.8" ry="11" fill="none" stroke="#111" stroke-width="1"/>
<rect x="309.4" y="490.8" width="5.4" height="7.2" fill="#fff" stroke="#111" stroke-width="0.8"/>
<rect x="311.3" y="514.6" width="4.4" height="5" fill="#fff" stroke="#111" stroke-width="0.8"/>
<path d="M311.3,519.8 V524.5 M315.7,519.8 V524.5" stroke="#111" stroke-width="0.8"/>
<circle cx="302.3" cy="508.5" r="1.15" fill="#111"/>
<circle cx="323.5" cy="508.5" r="1.15" fill="#111"/>
<ellipse cx="312.4" cy="508.7" rx="2" ry="1.5" fill="#111"/>
<circle cx="291.3" cy="508.6" r="0.7" fill="#111"/><circle cx="336" cy="508.6" r="0.7" fill="#111"/>
<path d="M316.4,486.6 Q317,492 315.8,497 Q315.4,503 315.2,504.6 Q314.6,507.6 312.4,508.4" fill="none" stroke="#111" stroke-width="1.6"/>
<rect x="604.85" y="274.6" width="10.3" height="1.92" fill="#9a9a9a"/><rect x="604.85" y="277.83" width="10.3" height="1.92" fill="#7a7a7a"/><rect x="604.85" y="281.06" width="10.3" height="1.92" fill="#4d4d4d"/><path d="M604.85,284.3 H615.15 V287.6 H619.2 L610,297.2 L600.8,287.6 H604.85 Z" fill="#4d4d4d"/>
<g fill="none" stroke="#111" stroke-width="1.1" stroke-linecap="round">
<ellipse cx="610.75" cy="327.6" rx="23.75" ry="16.9" fill="#fff"/>
<path d="M587,327.6 V335.6 A23.75,16.9 0 0 0 634.5,335.6 V327.6"/>
<path d="M596.98,349.37 V434.13 M599.73,350.57 V432.75 M624.05,349.6 V433.86 M627.14,347.83 V435.97 M603.72,351.74 V437.52" stroke="#111"/>
<ellipse cx="610.75" cy="445.6" rx="14.01" ry="10.5" stroke="#111"/>
<path d="M589.61,447.6 A21.14,13.5 0 0 0 631.89,447.6" stroke="#111" stroke-width="0.8800000000000001"/>
<path d="M611.13,352.5 V462.6 L621.01,461.13 V350.84 Z" fill="#fff" stroke="none"/>
<path d="M611.13,352.5 V462.6 M621.01,350.84 V458.63" stroke="#111" stroke-width="1.1"/>
<path d="M589.99,343.81 V454.89 M632.5,342.38 V453.62" stroke="#111"/>
<path d="M587,335.6 V447.6 M634.5,335.6 V447.6"/>
</g>
<g fill="none" stroke="#111" stroke-width="1.1" stroke-linecap="round">
<path d="M587,447.6 A23.75,15 0 0 0 634.5,447.6"/>
<path d="M587,447.6 V462.2 A23.75,15 0 0 0 634.5,462.2 V447.6"/>
</g>
<rect x="609.8" y="474.2" width="1.7" height="1.7" fill="#111"/>
<path d="M610.3,477.6 Q607.6,499 609.6,516.4 M614.2,477.4 Q612.4,499 612.4,516.4" fill="none" stroke="#3a3a3a" stroke-width="0.9"/>
<ellipse cx="610.9" cy="516.7" rx="22.8" ry="17.3" fill="none" stroke="#111" stroke-width="1.4"/>
<ellipse cx="610.3" cy="514.3" rx="17.5" ry="13.1" fill="none" stroke="#111" stroke-width="1.2"/>
<ellipse cx="610.5" cy="514.8" rx="15.7" ry="9.5" fill="none" stroke="#111" stroke-width="0.9"/>
<path d="M589.2,521 A22.8,17.3 0 0 0 632.6,521" fill="none" stroke="#111" stroke-width="0.7" transform="translate(0,-2.6)"/>
<path d="M607.5,501.4 V508.2 H611 M611.6,501.2 V504" fill="none" stroke="#111" stroke-width="0.8"/>
<path d="M608.9,524.4 V529.6 M612.9,524.4 V529.6 M608.9,526.6 H612.9" fill="none" stroke="#111" stroke-width="0.8"/>
<circle cx="600.8" cy="516.7" r="1.1" fill="#111"/>
<circle cx="620.3" cy="516.7" r="1.1" fill="#111"/>
<ellipse cx="610.9" cy="516.9" rx="1.6" ry="1.1" fill="#111"/>
<circle cx="589.3" cy="516.7" r="0.7" fill="#111"/><circle cx="631.4" cy="516.7" r="0.7" fill="#111"/>
<path d="M612.2,478 Q610,499 611,515.6" fill="none" stroke="#fff" stroke-width="2.6"/>
<path d="M610.3,477.6 Q607.6,499 609.6,516.4 M614.2,477.4 Q612.4,499 612.4,516.4" fill="none" stroke="#3a3a3a" stroke-width="0.9"/>
<path d="M627.4,505.6 Q630,503 635.4,502.6" fill="none" stroke="#111" stroke-width="1.6"/>
<path d="M667.4,495.4 Q670.6,494.4 672.8,491.6" fill="none" stroke="#111" stroke-width="1.6"/>
<g transform="translate(651.4,499.8) rotate(-14.5)">
<rect x="-16.4" y="-5.6" width="32.8" height="11.2" rx="1.2" fill="#fff" stroke="#bbb" stroke-width="0.5"/>
<rect x="-15.6" y="-6" width="7" height="12" rx="1" fill="#2e2e2e"/>
<rect x="8.6" y="-6" width="7" height="12" rx="1" fill="#2e2e2e"/>
<path d="M-14,-6 V6 M-12.2,-6 V6 M-10.4,-6 V6 M10.2,-6 V6 M12,-6 V6 M13.8,-6 V6" stroke="#777" stroke-width="0.5"/>
<path d="M-6.6,-5.4 V5.4 M-4.6,-5.4 V5.4 M3.2,-5.4 V5.4 M3.2,-0.6 H8.4 M6.4,-5.4 V5.4" stroke="#aaa" stroke-width="0.6" fill="none"/>
</g>
<g fill="none" stroke="#b2b2b2" stroke-width="0.8" stroke-linecap="round">
<ellipse cx="733.9" cy="318.75" rx="21.7" ry="11.75" fill="#fff"/>
<path d="M712.2,318.75 V326.95 A21.7,11.75 0 0 0 755.6,326.95 V318.75"/>
<path d="M721.44,336.57 V442.04 M723.87,337.37 V441.1 M746.4,336.56 V442.06 M748.83,335.48 V443.37 M726.96,338.08 V444.48 M732.64,338.68 V443.02" stroke="#b2b2b2"/>
<ellipse cx="735" cy="450.2" rx="13.7" ry="8.3" stroke="#b2b2b2"/>
<path d="M714.59,450.4 A19.31,9.54 0 0 0 753.21,450.4" stroke="#b2b2b2" stroke-width="0.6400000000000001"/>
<path d="M735.42,338.67 V460.97 L744.1,459.76 V337.32 Z" fill="#fff" stroke="none"/>
<path d="M735.42,338.67 V460.97 M744.1,337.32 V457.26" stroke="#b2b2b2" stroke-width="0.8"/>
<path d="M715.19,332.91 V455.77 M753.86,331.56 V454.55" stroke="#b2b2b2"/>
<path d="M712.2,326.95 V450.4 M755.6,326.95 V450.4"/>
</g>
<g fill="none" stroke="#111" stroke-width="1.15" stroke-linecap="round">
<path d="M712.2,450.4 A21.7,10.6 0 0 0 755.6,450.4"/>
<path d="M712.2,450.4 V468.8 A21.7,10.6 0 0 0 755.6,468.8 V450.4"/>
</g>
<path d="M721.3,450.2 A13.7,8.3 0 0 0 735.3,458.5 M744.1,456.4 A13.7,8.3 0 0 0 748.7,450.2" fill="none" stroke="#222" stroke-width="0.9"/>
<path d="M762.4,464.6 H772.4 Q773.7,464.6 773.7,466 V490.2" fill="none" stroke="#000" stroke-width="2.7"/>
<g transform="translate(761.9,495.2) scale(1.0)"><path d="M0.2,2.6 Q10,-2.2 20.4,2.6 Q10,0.9 0.2,2.6 Z" fill="#3a3a3a" stroke="#3a3a3a" stroke-width="1" stroke-linejoin="round"/><path d="M11.9,7.3 L6.9,12 V9.8 Q3.2,9.6 0.3,8.6 V3.6 Q3.2,4.6 6.9,4.8 V2.6 Z" fill="#404040"/><rect x="13.4" y="4.8" width="1.15" height="4.8" fill="#404040"/><rect x="15.2" y="4.7" width="1" height="4.7" fill="#555"/><path d="M17.2,4.5 Q19,4.2 20.4,3.6 V8.4 Q19,9 17.2,9.3 Z" fill="#404040"/></g>
</svg>
</body></html>
